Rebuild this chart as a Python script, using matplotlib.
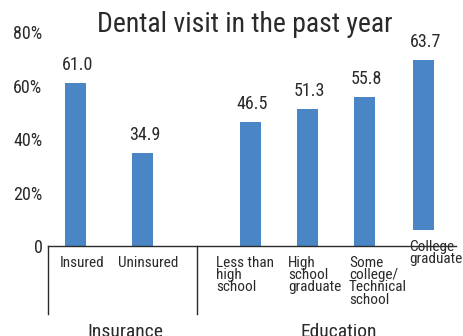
import matplotlib.pyplot as plt
import matplotlib.transforms as mtransforms

insurance_labels = ['Insured', 'Uninsured']
insurance_values = [61.0, 34.9]
education_labels = ['Less than\nhigh\nschool', 'High\nschool\ngraduate',
                    'Some\ncollege/\nTechnical\nschool', 'College\ngraduate']
education_values = [46.5, 51.3, 55.8, 63.7]
group_labels = ['Insurance', 'Education']
y_ticks = [0, 20, 40, 60, 80]
y_ticklabels = ['0', '20%', '40%', '60%', '80%']

plt.rcParams['font.family'] = ['Roboto Condensed', 'DejaVu Sans']
ink = '#2a2a2a'
blue = '#4a86c6'

fig = plt.figure(figsize=(4.64, 3.36), dpi=100)
ax = fig.add_axes([48 / 464, 90 / 336, 408 / 464, 214 / 336])

# slot positions: insurance bars spread wider than education bars
pos1 = [0.48 + 1.18 * i for i in range(len(insurance_values))]
pos2 = [3.55 + 1.0 * i for i in range(len(education_values))]
pos2[-1] += 0.04
positions = pos1 + pos2
values = insurance_values + education_values
labels = insurance_labels + education_labels
# the last column is drawn lifted above the baseline in the original
lift = [0, 0, 0, 0, 0, 6]

ax.bar(positions, values, width=0.37, bottom=lift, color=blue)

for x, v, b in zip(positions, values, lift):
    ax.annotate(f'{v:.1f}', (x + 0.04, v + b), xytext=(0, 6), textcoords='offset points',
                ha='center', va='bottom', fontsize=13, color=ink)

trans = mtransforms.blended_transform_factory(ax.transData, ax.transAxes)
label_shift = [0.12, 0.1, -0.09, 0.13, 0.24, 0.22]
for x, lab, s, b in zip(positions, labels, label_shift, lift):
    ax.text(x + s, -0.045 + b * 2.68 / 214, lab, transform=trans, ha='center', va='top',
            multialignment='left', fontsize=11, color=ink, linespacing=0.85)

for xd in [0, 2.61]:
    ax.plot([xd, xd], [0, -0.318], transform=trans, color=ink, lw=1, clip_on=False)

ax.text(1.35, -0.40, group_labels[0], transform=trans, ha='center', va='center',
        fontsize=14, color=ink)
ax.text(5.1, -0.40, group_labels[1], transform=trans, ha='center', va='center',
        fontsize=14, color=ink)

ax.set_xlim(0, 7.16)
ax.set_ylim(0, 80)
ax.set_yticks(y_ticks)
ax.set_yticklabels(y_ticklabels, fontsize=13, color=ink)
ax.tick_params(axis='y', length=0, pad=4)
ax.set_xticks([])
for side in ['left', 'right', 'top']:
    ax.spines[side].set_visible(False)
ax.spines['bottom'].set_color(ink)
ax.spines['bottom'].set_linewidth(1)

fig.text(245 / 464, 1 - 24 / 336, 'Dental visit in the past year', ha='center', va='center',
         fontsize=20, color=ink)

fig.savefig('out.png', dpi=100)
